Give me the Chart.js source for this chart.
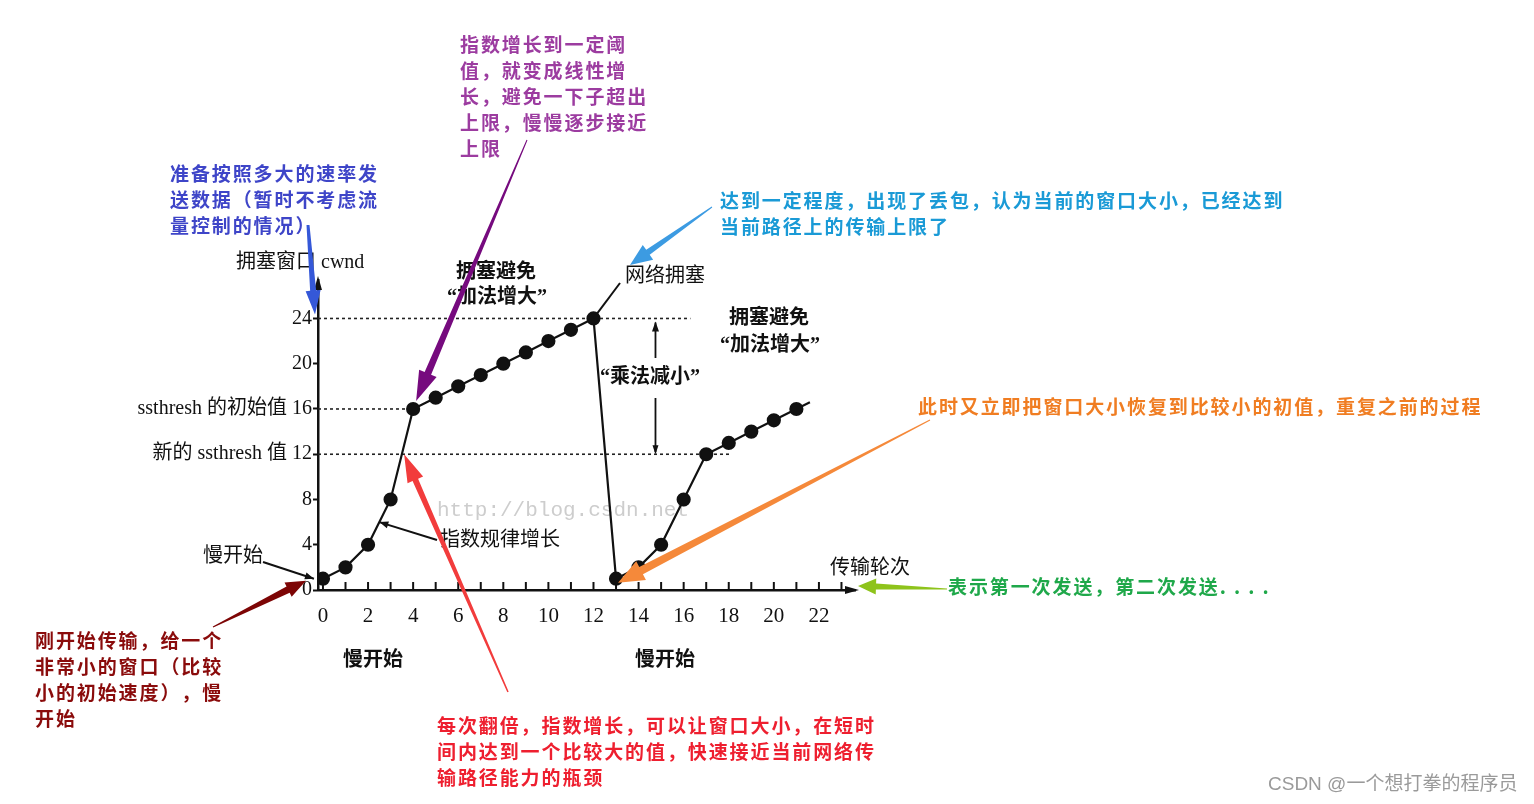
<!DOCTYPE html>
<html lang="zh-CN">
<head>
<meta charset="utf-8">
<title>TCP 拥塞控制 cwnd</title>
<script src="https://cdn.jsdelivr.net/npm/chart.js@4.4.1/dist/chart.umd.min.js"></script>
<style>
  html, body { margin: 0; padding: 0; background: #fff; }
  canvas { display: block; }
</style>
</head>
<body>
<canvas id="cwnd-chart" width="1534" height="804"></canvas>
<script>
'use strict'

// **** DATA ****
let rounds = [0, 1, 2, 3, 4, 5, 6, 7, 8, 9, 10, 11, 12, 13, 14, 15, 16, 17, 18, 19, 20, 21, 21.6];
let cwnd = [1, 2, 4, 8, 16, 17, 18, 19, 20, 21, 22, 23, 24, 1, 2, 4, 8, 12, 13, 14, 15, 16, 16.6];
let xTickValues = [0, 2, 4, 6, 8, 10, 12, 14, 16, 18, 20, 22];
let yTickValues = [0, 4, 8, 12, 16, 20, 24];
let yTickNotes = ['', '', '', '新的 ssthresh 值 ', 'ssthresh 的初始值 ', '', ''];
let thresholdLevels = [24, 16, 12];
let thresholdEnds = [16.3, 4.3, 18.1];

// **** NOTES ****
let purpleNote = ['指数增长到一定阈', '值，就变成线性增', '长，避免一下子超出', '上限，慢慢逐步接近', '上限'];
let blueNote = ['准备按照多大的速率发', '送数据（暂时不考虑流', '量控制的情况）'];
let skyNote = ['达到一定程度，出现了丢包，认为当前的窗口大小，已经达到', '当前路径上的传输上限了'];
let orangeNote = ['此时又立即把窗口大小恢复到比较小的初值，重复之前的过程'];
let greenNote = ['表示第一次发送，第二次发送. . . .'];
let darkRedNote = ['刚开始传输，给一个', '非常小的窗口（比较', '小的初始速度），慢', '开始'];
let redNote = ['每次翻倍，指数增长，可以让窗口大小，在短时', '间内达到一个比较大的值，快速接近当前网络传', '输路径能力的瓶颈'];

const SERIF = "'Liberation Serif', 'Noto Sans CJK SC', serif";
const CJK = "'Noto Sans CJK SC', sans-serif";

// **** HELPERS ****

function spacedText(ctx, text, x, y, spacing){
    let cx = x;
    for (const ch of text) {
        ctx.fillText(ch, cx, y);
        cx += ctx.measureText(ch).width + spacing;
    }
}

function drawNote(ctx, lines, x, y, color){
    ctx.save();
    ctx.font = `bold 19px ${CJK}`;
    ctx.fillStyle = color;
    ctx.textBaseline = 'middle';
    ctx.textAlign = 'left';
    for (let i = 0; i < lines.length; i++) {
        spacedText(ctx, lines[i], x, y + i * 26, 1.9);
    }
    ctx.restore();
}

function drawLabel(ctx, text, x, y, bold){
    ctx.save();
    ctx.font = `${bold ? 'bold ' : ''}20px ${SERIF}`;
    ctx.fillStyle = '#111';
    ctx.textBaseline = 'middle';
    ctx.textAlign = 'left';
    ctx.fillText(text, x, y);
    ctx.restore();
}

// tapered arrow: thin at the start, wide at the head
function drawArrow(ctx, x1, y1, x2, y2, w1, w2, headLen, headW, color){
    let dx = x2 - x1, dy = y2 - y1;
    let len = Math.hypot(dx, dy);
    let ux = dx / len, uy = dy / len;
    let nx = -uy, ny = ux;
    let bx = x2 - ux * headLen, by = y2 - uy * headLen;
    ctx.save();
    ctx.fillStyle = color;
    ctx.beginPath();
    ctx.moveTo(x1 + nx * w1 / 2, y1 + ny * w1 / 2);
    ctx.lineTo(bx + nx * w2 / 2, by + ny * w2 / 2);
    ctx.lineTo(bx + nx * headW / 2, by + ny * headW / 2);
    ctx.lineTo(x2, y2);
    ctx.lineTo(bx - nx * headW / 2, by - ny * headW / 2);
    ctx.lineTo(bx - nx * w2 / 2, by - ny * w2 / 2);
    ctx.lineTo(x1 - nx * w1 / 2, y1 - ny * w1 / 2);
    ctx.closePath();
    ctx.fill();
    ctx.restore();
}

function thinArrow(ctx, x1, y1, x2, y2){
    ctx.save();
    ctx.strokeStyle = '#111';
    ctx.lineWidth = 2;
    ctx.beginPath();
    ctx.moveTo(x1, y1);
    ctx.lineTo(x2, y2);
    ctx.stroke();
    ctx.restore();
    drawArrow(ctx, x1, y1, x2, y2, 0, 0, 9, 7, '#111');
}

// **** PLUGINS ****

const backdrop = {
    id: 'backdrop',
    beforeDatasetsDraw(chart){
        let ctx = chart.ctx;
        ctx.save();
        ctx.font = "21px 'Liberation Mono', monospace";
        ctx.fillStyle = '#cdcdcd';
        ctx.textBaseline = 'middle';
        ctx.fillText('http://blog.csdn.net', 437, 510);
        ctx.restore();
    }
};

const notes = {
    id: 'notes',
    afterDraw(chart){
        let ctx = chart.ctx;
        let xs = chart.scales.x, ys = chart.scales.y;
        let area = chart.chartArea;
        let px = v => xs.getPixelForValue(v);
        let py = v => ys.getPixelForValue(v);

        // axis arrow heads
        ctx.save();
        ctx.fillStyle = '#111';
        ctx.beginPath();
        ctx.moveTo(area.left, area.top - 4);
        ctx.lineTo(area.left - 4, area.top + 10);
        ctx.lineTo(area.left + 4, area.top + 10);
        ctx.closePath();
        ctx.fill();
        ctx.beginPath();
        ctx.moveTo(area.right + 4, area.bottom);
        ctx.lineTo(area.right - 10, area.bottom - 4);
        ctx.lineTo(area.right - 10, area.bottom + 4);
        ctx.closePath();
        ctx.fill();

        // small upward ticks on the x axis, one per round
        ctx.strokeStyle = '#111';
        ctx.lineWidth = 2;
        for (let r = 0; r <= 23; r++) {
            ctx.beginPath();
            ctx.moveTo(px(r), area.bottom);
            ctx.lineTo(px(r), area.bottom - 8);
            ctx.stroke();
        }

        // leader from the loss point to 网络拥塞
        ctx.beginPath();
        ctx.moveTo(px(12), py(24));
        ctx.lineTo(620, 283);
        ctx.stroke();

        // 乘法减小 double arrow
        let mx = px(14.75);
        ctx.lineWidth = 1.8;
        ctx.beginPath();
        ctx.moveTo(mx, py(24) + 4);
        ctx.lineTo(mx, 358);
        ctx.moveTo(mx, 398);
        ctx.lineTo(mx, py(12) - 2);
        ctx.stroke();
        ctx.restore();
        drawArrow(ctx, mx, 340, mx, py(24) + 3, 0, 0, 10, 7, '#111');
        drawArrow(ctx, mx, 420, mx, py(12), 0, 0, 9, 6, '#111');

        // black chart labels
        drawLabel(ctx, '拥塞窗口 cwnd', 236, 263, false);
        drawLabel(ctx, '拥塞避免', 456, 273, true);
        drawLabel(ctx, '“加法增大”', 447, 298, true);
        drawLabel(ctx, '网络拥塞', 625, 277, false);
        drawLabel(ctx, '“乘法减小”', 600, 378, true);
        drawLabel(ctx, '拥塞避免', 729, 319, true);
        drawLabel(ctx, '“加法增大”', 720, 346, true);
        drawLabel(ctx, '指数规律增长', 440, 541, false);
        drawLabel(ctx, '慢开始', 203, 557, false);
        drawLabel(ctx, '传输轮次', 830, 569, false);
        drawLabel(ctx, '慢开始', 343, 661, true);
        drawLabel(ctx, '慢开始', 635, 661, true);

        thinArrow(ctx, 437, 540, px(2.5), py(6));
        thinArrow(ctx, 263, 562, px(-0.4), py(1));

        // coloured annotations
        drawNote(ctx, purpleNote, 460, 45, '#9c3ca0');
        drawNote(ctx, blueNote, 170, 174, '#3e45c8');
        drawNote(ctx, skyNote, 720, 201, '#1a9ad6');
        drawNote(ctx, orangeNote, 918, 407, '#f07d22');
        drawNote(ctx, greenNote, 948, 587, '#1fa84a');
        drawNote(ctx, darkRedNote, 35, 641, '#8a0b0b');
        drawNote(ctx, redNote, 437, 726, '#ee1f2f');

        drawArrow(ctx, 527, 140, px(4) + 3, py(16) - 8, 1, 7, 30, 19, '#760a7e');
        drawArrow(ctx, 508, 692, px(3.6), py(12), 1.5, 6, 28, 17, '#f23c3c');
        drawArrow(ctx, 930, 420, px(13) + 2, py(1) + 4, 1, 8, 26, 21, '#f5893a');
        drawArrow(ctx, 308, 225, area.left - 3, py(24) - 4, 3, 6, 24, 15, '#3558d8');
        drawArrow(ctx, 712, 207, 630, 265, 1, 6, 22, 18, '#3c9be2');
        drawArrow(ctx, 947, 589, area.right + 3, 586, 1, 6, 18, 16, '#8ec31b');
        drawArrow(ctx, 213, 627, area.left - 12, py(1) + 2, 1, 7, 20, 16, '#7d0505');

        // footer watermark
        ctx.save();
        ctx.font = `19px 'Liberation Sans', ${CJK}`;
        ctx.fillStyle = '#9a9a9a';
        ctx.textBaseline = 'middle';
        ctx.fillText('CSDN @一个想打拳的程序员', 1268, 785);
        ctx.restore();
    }
};

// **** CHART ****

let cwndPoints = rounds.map((r, i) => ({x: r, y: cwnd[i]}));
let thresholdSets = thresholdLevels.map((lvl, i) => ({
    data: [{x: -0.22, y: lvl}, {x: thresholdEnds[i], y: lvl}],
    borderColor: '#222',
    borderWidth: 1.6,
    borderDash: [3, 3],
    pointRadius: 0,
    tension: 0
}));

const config = {
    type: 'line',
    data: {
        datasets: [{
            data: cwndPoints,
            borderColor: '#111',
            borderWidth: 2.2,
            backgroundColor: '#111',
            pointBackgroundColor: '#111',
            pointBorderColor: '#111',
            pointRadius: c => c.dataIndex === rounds.length - 1 ? 0 : 6,
            tension: 0
        }, ...thresholdSets]
    },
    options: {
        responsive: false,
        animation: false,
        events: [],
        layout: {
            padding: {left: 118, top: 280, right: 679, bottom: 174}
        },
        plugins: {
            legend: {display: false},
            tooltip: {enabled: false}
        },
        scales: {
            x: {
                type: 'linear',
                min: -0.22,
                max: 23.6,
                afterFit: s => { s.height = 40; },
                afterBuildTicks: s => { s.ticks = xTickValues.map(v => ({value: v})); },
                grid: {display: false, drawTicks: false},
                border: {display: true, color: '#111', width: 2.5},
                ticks: {
                    padding: 14,
                    color: '#111',
                    font: {family: SERIF, size: 21},
                    maxRotation: 0,
                    autoSkip: false
                }
            },
            y: {
                type: 'linear',
                min: 0,
                max: 27.4,
                afterFit: s => { s.width = 200; },
                afterBuildTicks: s => { s.ticks = yTickValues.map(v => ({value: v})); },
                grid: {drawOnChartArea: false, drawTicks: true, tickLength: 5, color: '#111', tickWidth: 2},
                border: {display: true, color: '#111', width: 2.5},
                ticks: {
                    padding: 1,
                    color: '#111',
                    font: {family: SERIF, size: 20},
                    autoSkip: false,
                    callback: v => {
                        let i = yTickValues.indexOf(v);
                        return (i >= 0 ? yTickNotes[i] : '') + v;
                    }
                }
            }
        }
    },
    plugins: [backdrop, notes]
};

const ctx = document.getElementById('cwnd-chart');
const cwndChart = new Chart(ctx, config);
</script>
</body>
</html>
